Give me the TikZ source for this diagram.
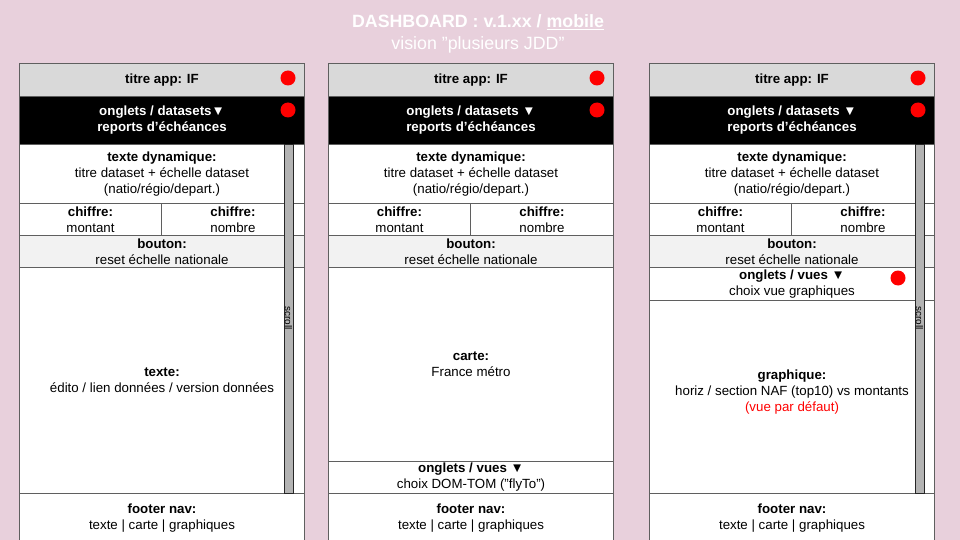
\documentclass[tikz,border=0pt]{standalone}
\usepackage{fontspec}
\setmainfont{Liberation Sans}
\usetikzlibrary{positioning}
\definecolor{bgpink}{HTML}{E8D0DC}
\definecolor{edgegray}{HTML}{5F5F5F}
\definecolor{titlegray}{HTML}{D9D9D9}
\definecolor{btngray}{HTML}{F2F2F2}
\definecolor{scrollgray}{HTML}{B3B3B3}
\definecolor{dotred}{HTML}{FF0000}
\tikzset{
  cell/.style={draw=edgegray, line width=1pt, fill=white, anchor=north west, inner sep=0pt,
    align=center, font=\fontsize{13.3}{16}\selectfont, text=black},
  hdr/.style={cell, fill=titlegray},
  tabs/.style={cell, fill=black, text=white},
  btn/.style={cell, fill=btngray},
  scrollbar/.style={draw=black!85, line width=1pt, fill=scrollgray, anchor=north west, inner sep=0pt,
    minimum width=9pt},
  scrolltxt/.style={rotate=-90, font=\fontsize{10}{11}\selectfont, inner sep=0pt},
  dot/.style={circle, fill=dotred, draw=none, minimum size=15pt, inner sep=0pt},
  ttl/.style={text=white, font=\fontsize{17.8}{23}\selectfont, inner sep=0pt},
}
\begin{document}
\begin{tikzpicture}[x=1pt,y=-1pt]
\useasboundingbox (0,0) rectangle (960,540);
\fill[bgpink] (0,0) rectangle (960,540);

% title
\node[ttl] (t1) at (478,22) {\textbf{DASHBOARD : v.1.xx / \underline{mobile}}};
\node[ttl] (t2) at (478,45) {vision "plusieurs JDD"};

% ---------- Panel 1 ----------
\node[hdr, minimum width=285pt, minimum height=33pt] (a1) at (19,63) {\textbf{titre app: IF}};
\node[tabs, minimum width=285pt, minimum height=48pt] (a2) at (19,96) {\textbf{onglets / datasets▼}\\\textbf{reports d'échéances}};
\node[cell, minimum width=285pt, minimum height=59pt] (a3) at (19,144) {\textbf{texte dynamique:}\\titre dataset + échelle dataset\\(natio/régio/depart.)};
\node[cell, minimum width=142pt, minimum height=32pt] (a4) at (19,203) {\textbf{chiffre:}\\montant};
\node[cell, minimum width=143pt, minimum height=32pt] (a5) at (161,203) {\textbf{chiffre:}\\nombre};
\node[btn, minimum width=285pt, minimum height=32pt] (a6) at (19,235) {\textbf{bouton:}\\reset échelle nationale};
\node[cell, minimum width=285pt, minimum height=226pt] (a7) at (19,267) {\textbf{texte:}\\édito / lien données / version données};
\node[cell, minimum width=285pt, minimum height=49pt] (a8) at (19,493) {\textbf{footer nav:}\\texte | carte | graphiques};
\node[scrollbar, minimum height=349pt] (as) at (284,144) {};
\node[scrolltxt] (ast) at (288.5,318) {scroll};
\node[dot] (ad1) at (288,78) {};
\node[dot] (ad2) at (288,110) {};

% ---------- Panel 2 ----------
\node[hdr, minimum width=285pt, minimum height=33pt] (b1) at (328,63) {\textbf{titre app: IF}};
\node[tabs, minimum width=285pt, minimum height=48pt] (b2) at (328,96) {\textbf{onglets / datasets ▼}\\\textbf{reports d'échéances}};
\node[cell, minimum width=285pt, minimum height=59pt] (b3) at (328,144) {\textbf{texte dynamique:}\\titre dataset + échelle dataset\\(natio/régio/depart.)};
\node[cell, minimum width=142pt, minimum height=32pt] (b4) at (328,203) {\textbf{chiffre:}\\montant};
\node[cell, minimum width=143pt, minimum height=32pt] (b5) at (470,203) {\textbf{chiffre:}\\nombre};
\node[btn, minimum width=285pt, minimum height=32pt] (b6) at (328,235) {\textbf{bouton:}\\reset échelle nationale};
\node[cell, minimum width=285pt, minimum height=194pt] (b7) at (328,267) {\textbf{carte:}\\France métro};
\node[cell, minimum width=285pt, minimum height=32pt] (b8) at (328,461) {\textbf{onglets / vues ▼}\\choix DOM-TOM ("flyTo")};
\node[cell, minimum width=285pt, minimum height=49pt] (b9) at (328,493) {\textbf{footer nav:}\\texte | carte | graphiques};
\node[dot] (bd1) at (597,78) {};
\node[dot] (bd2) at (597,110) {};

% ---------- Panel 3 ----------
\node[hdr, minimum width=285pt, minimum height=33pt] (c1) at (649,63) {\textbf{titre app: IF}};
\node[tabs, minimum width=285pt, minimum height=48pt] (c2) at (649,96) {\textbf{onglets / datasets ▼}\\\textbf{reports d'échéances}};
\node[cell, minimum width=285pt, minimum height=59pt] (c3) at (649,144) {\textbf{texte dynamique:}\\titre dataset + échelle dataset\\(natio/régio/depart.)};
\node[cell, minimum width=142pt, minimum height=32pt] (c4) at (649,203) {\textbf{chiffre:}\\montant};
\node[cell, minimum width=143pt, minimum height=32pt] (c5) at (791,203) {\textbf{chiffre:}\\nombre};
\node[btn, minimum width=285pt, minimum height=32pt] (c6) at (649,235) {\textbf{bouton:}\\reset échelle nationale};
\node[cell, minimum width=285pt, minimum height=33pt] (c7) at (649,267) {\textbf{onglets / vues ▼}\\choix vue graphiques};
\node[cell, minimum width=285pt, minimum height=193pt, text depth=13pt] (c8) at (649,300) {\textbf{graphique:}\\horiz / section NAF (top10) vs montants\\\textcolor{dotred}{(vue par défaut)}};
\node[cell, minimum width=285pt, minimum height=49pt] (c9) at (649,493) {\textbf{footer nav:}\\texte | carte | graphiques};
\node[scrollbar, minimum height=349pt] (cs) at (915,144) {};
\node[scrolltxt] (cst) at (919.5,318) {scroll};
\node[dot] (cd1) at (918,78) {};
\node[dot] (cd2) at (918,110) {};
\node[dot] (cd3) at (898,278) {};
\end{tikzpicture}
\end{document}
